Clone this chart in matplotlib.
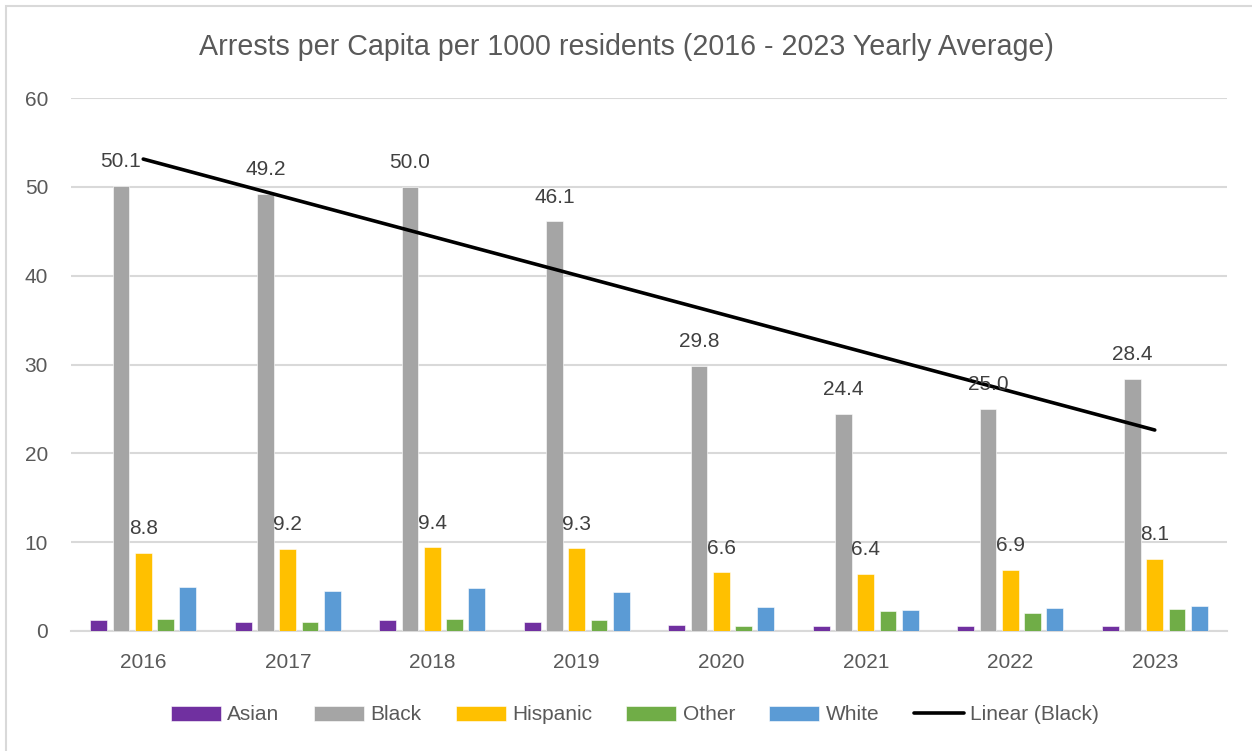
import numpy as np
import matplotlib.pyplot as plt
from matplotlib.patches import Rectangle

years = ['2016', '2017', '2018', '2019', '2020', '2021', '2022', '2023']
asian = [1.25, 1.05, 1.2, 1.0, 0.7, 0.6, 0.6, 0.6]
black = [50.1, 49.2, 50.0, 46.1, 29.8, 24.4, 25.0, 28.4]
hispanic = [8.8, 9.2, 9.4, 9.3, 6.6, 6.4, 6.9, 8.1]
other = [1.4, 1.0, 1.3, 1.25, 0.55, 2.3, 2.0, 2.45]
white = [5.0, 4.55, 4.85, 4.4, 2.75, 2.35, 2.6, 2.8]

series = [('Asian', asian, '#7030A0'),
          ('Black', black, '#A5A5A5'),
          ('Hispanic', hispanic, '#FFC000'),
          ('Other', other, '#70AD47'),
          ('White', white, '#5B9BD5')]
labelled = ['Black', 'Hispanic']

plt.rcParams['font.family'] = ['Liberation Sans', 'DejaVu Sans']
grey_txt = '#595959'

fig = plt.figure(figsize=(12.52, 7.51), dpi=100)
ax = fig.add_axes([71/1252, 1-631/751, (1227-71)/1252, (631-98)/751])

x = np.arange(len(years))
step = 0.154
width = 0.117
handles = []
for i, (name, vals, col) in enumerate(series):
    pos = x + (i - 2) * step
    bars = ax.bar(pos, vals, width, color=col, label=name, zorder=3,
                  edgecolor='white', linewidth=0.4)
    handles.append(bars)
    if name in labelled:
        for b, v in zip(bars, vals):
            ax.annotate(f'{v:.1f}', (b.get_x() + b.get_width()/2, v),
                        xytext=(0, 17.5), textcoords='offset points',
                        ha='center', va='center', fontsize=15, color='#404040', zorder=5)

# linear trend of the Black series
k, c = np.polyfit(x, black, 1)
trend, = ax.plot(x, k*x + c, color='black', lw=2.6, label='Linear (Black)', zorder=4,
                 solid_capstyle='round')
handles.append(trend)

ax.set_xlim(-0.5, len(years) - 0.5)
ax.set_ylim(0, 60)
ax.set_yticks(range(0, 61, 10))
ax.set_xticks(x)
ax.set_xticklabels(years)
ax.yaxis.grid(True, color='#D9D9D9', lw=1.5, zorder=0)
ax.tick_params(axis='both', length=0, labelsize=15, colors=grey_txt)
ax.tick_params(axis='y', pad=16.5)
ax.tick_params(axis='x', pad=16)
for s in ['top', 'right', 'left']:
    ax.spines[s].set_visible(False)
ax.spines['bottom'].set_color('#D9D9D9')
ax.spines['bottom'].set_linewidth(1.5)

fig.suptitle('Arrests per Capita per 1000 residents (2016 - 2023 Yearly Average)',
             y=1-47/751, va='center', fontsize=20.6, color=grey_txt)

leg = fig.legend(handles, [h.get_label() for h in handles],
                 loc='center', bbox_to_anchor=(635/1252, 1-715/751), ncol=6,
                 frameon=False, fontsize=15, handlelength=2.4, handleheight=0.7,
                 handletextpad=0.3, columnspacing=1.65)
for t in leg.get_texts():
    t.set_color(grey_txt)

fig.patches.append(Rectangle((6/1252, -0.01), 1.02, 1 - 6/751 + 0.01,
                             transform=fig.transFigure, fill=False,
                             edgecolor='#D9D9D9', lw=1.5))

fig.savefig('out.png', dpi=100)
